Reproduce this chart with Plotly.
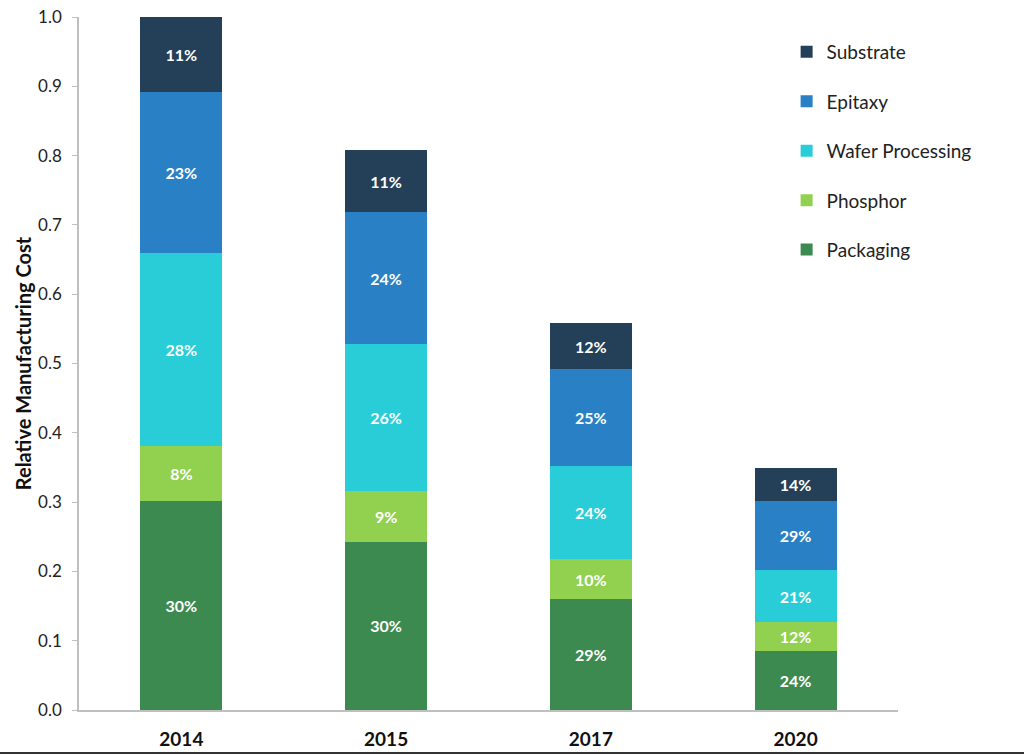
import plotly.graph_objects as go

years = ["2014", "2015", "2017", "2020"]
packaging = [0.302, 0.243, 0.160, 0.085]
phosphor = [0.079, 0.073, 0.058, 0.042]
wafer = [0.278, 0.212, 0.134, 0.075]
epitaxy = [0.233, 0.190, 0.140, 0.100]
substrate = [0.108, 0.090, 0.066, 0.047]

packaging_pct = ["30%", "30%", "29%", "24%"]
phosphor_pct = ["8%", "9%", "10%", "12%"]
wafer_pct = ["28%", "26%", "24%", "21%"]
epitaxy_pct = ["23%", "24%", "25%", "29%"]
substrate_pct = ["11%", "11%", "12%", "14%"]

series = [
    ("Packaging", packaging, packaging_pct, "#3D8A50"),
    ("Phosphor", phosphor, phosphor_pct, "#92D050"),
    ("Wafer Processing", wafer, wafer_pct, "#28CDD8"),
    ("Epitaxy", epitaxy, epitaxy_pct, "#2A80C5"),
    ("Substrate", substrate, substrate_pct, "#243F58"),
]

FONT = "Lato"
fig = go.Figure()
for i, (name, vals, pct, color) in enumerate(series):
    fig.add_trace(go.Bar(
        x=years, y=vals, name=name, text=pct,
        textposition="inside", insidetextanchor="middle",
        textfont=dict(family=FONT, size=16, color="white", weight="bold"),
        marker=dict(color=color, line=dict(width=0)),
        legendgroup=name, legendrank=100 - i,
    ))

fig.update_layout(
    barmode="stack",
    bargap=0.6,
    width=1024, height=755,
    margin=dict(l=79, r=126, t=17, b=45),
    plot_bgcolor="white", paper_bgcolor="white",
    font=dict(family=FONT, size=17, color="#222222"),
    showlegend=True,
    legend=dict(
        x=0.864, y=0.977, xanchor="left", yanchor="top",
        font=dict(family=FONT, size=19, color="#222222"),
        traceorder="grouped", tracegroupgap=21.75,
        itemwidth=30, bgcolor="rgba(0,0,0,0)",
    ),
    xaxis=dict(
        showline=True, linecolor="#BFBFBF", linewidth=1.5,
        ticks="", tickfont=dict(family=FONT, size=19, color="#111111", weight="bold"),
        ticklabelstandoff=11, automargin=False,
    ),
    yaxis=dict(
        range=[0, 1.0], dtick=0.1, tickformat=".1f",
        showline=True, linecolor="#BFBFBF", linewidth=1.5,
        ticks="outside", ticklen=5, tickcolor="#BFBFBF",
        ticklabelstandoff=7,
        showgrid=False, zeroline=False, automargin=False,
        tickfont=dict(family=FONT, size=17, color="#222222"),
        title=dict(text="Relative Manufacturing Cost", standoff=1,
                   font=dict(family=FONT, size=20, color="#111111", weight="bold")),
    ),
    shapes=[dict(type="line", xref="paper", yref="paper",
                 x0=-79 / 819, x1=945 / 819, y0=-43 / 693, y1=-43 / 693,
                 line=dict(color="#333333", width=2))],
)

fig.write_html("out.html")
